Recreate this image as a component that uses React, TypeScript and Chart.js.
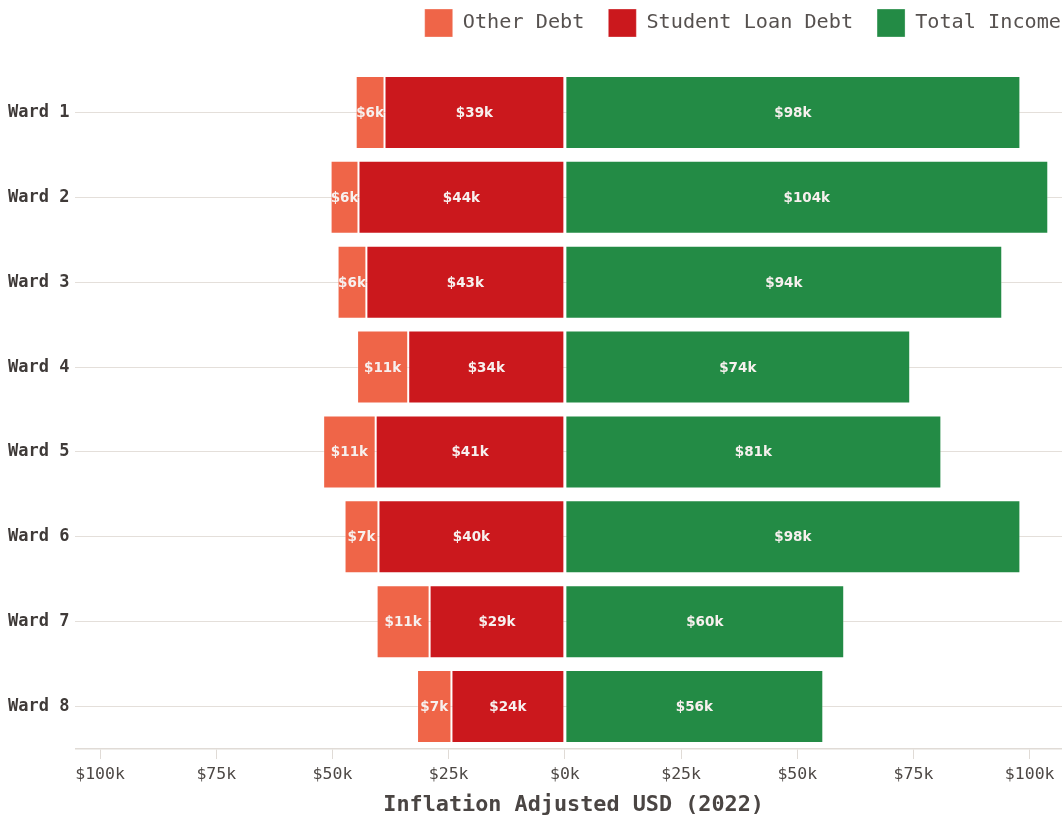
import React, { useEffect, useRef } from 'react';
import { Chart, registerables } from 'chart.js';

Chart.register(...registerables);

const wards = ['Ward 1', 'Ward 2', 'Ward 3', 'Ward 4', 'Ward 5', 'Ward 6', 'Ward 7', 'Ward 8'];
const otherDebt = [6.2, 6.0, 6.2, 11.0, 11.3, 7.3, 11.4, 7.4];
const studentLoanDebt = [38.8, 44.4, 42.7, 33.7, 40.7, 40.1, 29.1, 24.4];
const totalIncome = [98.0, 104.0, 94.1, 74.3, 81.0, 98.0, 60.1, 55.6];
const xTicks = [-100, -75, -50, -25, 0, 25, 50, 75, 100];

const MONO = 'DejaVu Sans Mono';

const legendSpacer = {
  id: 'legendSpacer',
  beforeLayout(chart: any) {
    const lg = chart.legend;
    if (lg && !lg.__spaced) {
      const orig = lg.fit;
      lg.fit = function () {
        orig.call(this);
        this.height += 23;
      };
      lg.__spaced = true;
    }
  },
};

const barLabels = {
  id: 'barLabels',
  afterDatasetsDraw(chart: any) {
    const ctx = chart.ctx;
    ctx.save();
    ctx.font = 'bold 13.5px "DejaVu Sans"';
    ctx.fillStyle = '#f7f0ee';
    ctx.textAlign = 'center';
    ctx.textBaseline = 'middle';
    chart.data.datasets.forEach((ds: any, i: number) => {
      const meta = chart.getDatasetMeta(i);
      meta.data.forEach((el: any, j: number) => {
        const v = ds.data[j];
        const p = el.getProps(['x', 'base', 'y'], true);
        ctx.fillText('$' + Math.round(Math.abs(v)) + 'k', (p.x + p.base) / 2, p.y + 1);
      });
    });
    ctx.restore();
  },
};

const BORDER = 'rgba(255,255,255,0.3)';

export default function App() {
  const ref = useRef<HTMLCanvasElement | null>(null);

  useEffect(() => {
    if (!ref.current) return;
    const legendOrder: Record<number, number> = { 1: 0, 0: 1, 2: 2 };
    const chart = new Chart(ref.current, {
      type: 'bar',
      data: {
        labels: wards,
        datasets: [
          {
            label: 'Student Loan Debt',
            data: studentLoanDebt.map((v) => -v),
            backgroundColor: '#cb181d',
            borderColor: BORDER,
            borderWidth: 1,
            borderSkipped: false,
          },
          {
            label: 'Other Debt',
            data: otherDebt.map((v) => -v),
            backgroundColor: '#ef6548',
            borderColor: BORDER,
            borderWidth: 1,
            borderSkipped: false,
          },
          {
            label: 'Total Income',
            data: totalIncome,
            backgroundColor: '#238b45',
            borderColor: BORDER,
            borderWidth: 1,
            borderSkipped: false,
          },
        ],
      },
      options: {
        indexAxis: 'y',
        responsive: true,
        maintainAspectRatio: false,
        animation: false,
        datasets: { bar: { barPercentage: 0.86, categoryPercentage: 1 } },
        layout: { padding: { top: -15, left: 2, right: 0, bottom: 0 } },
        plugins: {
          legend: {
            position: 'top',
            align: 'end',
            labels: {
              boxWidth: 28,
              boxHeight: 28,
              padding: 24,
              color: '#56514f',
              font: { family: MONO, size: 20.2 },
              sort: (a: any, b: any) => legendOrder[a.datasetIndex] - legendOrder[b.datasetIndex],
            },
          },
          tooltip: { enabled: false },
        },
        scales: {
          x: {
            type: 'linear',
            stacked: true,
            min: -105.3,
            max: 111.9,
            afterBuildTicks: (s: any) => {
              s.ticks = xTicks.map((v) => ({ value: v }));
            },
            grid: { display: true, drawOnChartArea: false, drawTicks: true, tickLength: 10, color: '#e0dbd6' },
            border: { display: true, color: '#e0dbd6', width: 1.5 },
            ticks: {
              padding: 6,
              color: '#4d4845',
              font: { family: MONO, size: 16.5 },
              callback: (v: any) => '$' + Math.abs(Number(v)) + 'k',
            },
            title: {
              display: true,
              text: 'Inflation Adjusted USD (2022) ',
              color: '#4a4543',
              font: { family: MONO, size: 21.8, weight: 'bold' },
              padding: { top: 1, bottom: 0 },
            },
          },
          y: {
            stacked: true,
            grid: { display: true, offset: false, drawTicks: false, color: '#e4dfda', lineWidth: 1 },
            border: { display: false },
            ticks: {
              padding: 6,
              color: '#3f3a38',
              font: { family: MONO, size: 17, weight: 'bold' },
            },
          },
        },
      } as any,
      plugins: [legendSpacer, barLabels],
    });
    return () => chart.destroy();
  }, []);

  return (
    <div
      style={{
        position: 'fixed',
        left: 0,
        top: 0,
        width: 1062,
        height: 818,
        overflow: 'hidden',
        background: '#ffffff',
      }}
    >
      <div style={{ position: 'relative', width: 1085, height: 818 }}>
        <canvas ref={ref} />
      </div>
    </div>
  );
}
